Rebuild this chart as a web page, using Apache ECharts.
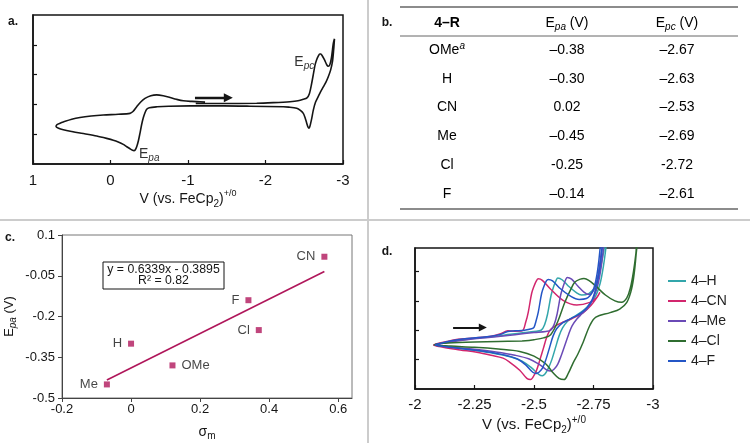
<!DOCTYPE html>
<html><head><meta charset="utf-8">
<script src="https://cdn.jsdelivr.net/npm/echarts@6/dist/echarts.min.js"></script>
<style>html,body{margin:0;padding:0;background:#fff}#c{width:750px;height:443px}</style>
</head><body><div id="c"></div>
<script>
// ---------- Panel a: CV of 4-H (potential V, current in tick units) ----------
const cvA = [
[-1.10,2.03],[-1.40,2.03],[-1.886,2.04],[-2.1,2.06],[-2.316,2.09],[-2.42,2.12],[-2.488,2.17],[-2.535,2.22],[-2.565,2.35],[-2.596,2.71],[-2.62,3.05],[-2.639,3.32],[-2.66,3.5],[-2.681,3.62],[-2.70,3.69],[-2.715,3.69],[-2.73,3.64],[-2.76,3.5],[-2.79,3.33],[-2.81,3.28],[-2.83,3.33],[-2.85,3.55],[-2.865,3.85],[-2.875,4.05],[-2.89,4.2],
[-2.88,3.85],[-2.865,3.45],[-2.84,3.15],[-2.81,2.93],[-2.78,2.75],[-2.746,2.59],[-2.71,2.42],[-2.68,2.26],[-2.645,2.07],[-2.617,1.81],[-2.598,1.55],[-2.583,1.37],[-2.57,1.24],[-2.561,1.2],[-2.548,1.24],[-2.532,1.37],[-2.51,1.56],[-2.488,1.70],[-2.45,1.8],[-2.403,1.87],[-2.3,1.91],[-2.23,1.92],[-1.8,1.94],[-1.455,1.95],[-1.026,1.95],[-0.75,1.94],[-0.6,1.92],[-0.5,1.89],[-0.467,1.84],[-0.445,1.72],[-0.423,1.55],[-0.40,1.3],[-0.38,1.03],[-0.36,0.78],[-0.338,0.58],[-0.318,0.47],[-0.303,0.45],[-0.285,0.46],[-0.252,0.51],[-0.21,0.58],[-0.165,0.66],[-0.1,0.74],[-0.036,0.80],[0.05,0.86],[0.178,0.94],[0.3,1.0],[0.394,1.04],[0.5,1.09],[0.609,1.15],[0.67,1.2],[0.703,1.26],[0.69,1.32],[0.65,1.37],[0.609,1.41],[0.5,1.5],[0.394,1.56],[0.25,1.61],[0.093,1.645],[-0.1,1.67],[-0.252,1.70],[-0.29,1.76],[-0.338,1.92],[-0.39,2.08],[-0.445,2.2],[-0.52,2.29],[-0.596,2.32],[-0.68,2.29],[-0.768,2.23],[-0.85,2.17],[-0.94,2.12],[-1.05,2.10],[-1.155,2.09],[-1.22,2.08]
];
const arrowA = [[-1.09,2.22],[-1.52,2.22]];
const labelEpc = [-2.50,3.42];
const labelEpa = [-0.50,0.34];
const xTicksA = [1,0,-1,-2,-3];

// ---------- Panel b: table ----------
const substituents = ['OMe','H','CN','Me','Cl','F'];
const epaText = ['\u20130.38','\u20130.30','0.02','\u20130.45','-0.25','\u20130.14'];
const epcText = ['\u20132.67','\u20132.63','\u20132.53','\u20132.69','-2.72','\u20132.61'];

// ---------- Panel c: Hammett plot ----------
const sigmaM = [0.12, 0.00, 0.56, -0.07, 0.37, 0.34];
const epaVals = [-0.38, -0.30, 0.02, -0.45, -0.25, -0.14];
const trendX = [-0.07, 0.56];
const trendY = [-0.4339, -0.0345];
const xTicksC = [-0.2, 0, 0.2, 0.4, 0.6];
const yTicksC = [-0.5, -0.35, -0.2, -0.05, 0.1];
const eqLines = ['y = 0.6339x - 0.3895', 'R\u00b2 = 0.82'];

// ---------- Panel d: CVs of 4-R ----------
const seriesNames = ['4\u2013H','4\u2013CN','4\u2013Me','4\u2013Cl','4\u2013F'];
const cvH = [
[-2.24,1.72],[-2.32,1.78],[-2.40,1.86],[-2.46,1.92],[-2.50,1.96],[-2.53,2.0],[-2.545,2.2],[-2.557,2.55],[-2.572,3.2],[-2.583,3.5],[-2.593,3.7],[-2.60,3.78],[-2.618,3.72],[-2.645,3.5],[-2.675,3.3],[-2.70,3.2],[-2.73,3.25],[-2.755,3.45],[-2.772,3.85],[-2.785,4.35],[-2.795,4.8],[-2.80,5.3],
[-2.808,5.3],[-2.802,4.8],[-2.792,4.2],[-2.778,3.6],[-2.755,3.1],[-2.725,2.8],[-2.695,2.6],[-2.665,2.45],[-2.64,2.3],[-2.62,2.08],[-2.605,1.8],[-2.59,1.4],[-2.575,1.0],[-2.56,0.7],[-2.547,0.52],[-2.535,0.45],[-2.52,0.5],[-2.49,0.72],[-2.45,0.95],[-2.40,1.1],[-2.32,1.23],[-2.22,1.35],[-2.13,1.44],[-2.085,1.5],[-2.12,1.57],[-2.18,1.66],[-2.24,1.72]
];
const cvCN = [
[-2.18,1.69],[-2.25,1.74],[-2.32,1.80],[-2.36,1.88],[-2.39,1.98],[-2.42,1.97],[-2.45,1.98],[-2.466,2.3],[-2.476,2.62],[-2.49,3.25],[-2.50,3.5],[-2.51,3.68],[-2.518,3.75],[-2.535,3.7],[-2.567,3.42],[-2.622,3.02],[-2.68,2.86],[-2.735,2.95],[-2.762,3.1],[-2.777,3.29],
[-2.765,3.12],[-2.74,2.85],[-2.707,2.6],[-2.66,2.4],[-2.623,2.28],[-2.59,2.15],[-2.567,2.0],[-2.553,1.75],[-2.54,1.4],[-2.525,1.0],[-2.51,0.62],[-2.497,0.42],[-2.485,0.32],[-2.47,0.36],[-2.44,0.64],[-2.40,0.9],[-2.37,1.05],[-2.32,1.15],[-2.26,1.25],[-2.19,1.33],[-2.118,1.42],[-2.078,1.5],[-2.10,1.56],[-2.14,1.63],[-2.18,1.69]
];
const cvMe = [
[-2.26,1.72],[-2.34,1.78],[-2.42,1.85],[-2.50,1.92],[-2.55,1.96],[-2.57,2.0],[-2.585,2.2],[-2.597,2.55],[-2.612,3.2],[-2.623,3.5],[-2.633,3.72],[-2.64,3.8],[-2.658,3.74],[-2.685,3.5],[-2.71,3.3],[-2.73,3.22],[-2.75,3.35],[-2.765,3.7],[-2.775,4.2],[-2.785,4.8],[-2.79,5.3],
[-2.797,5.3],[-2.792,4.8],[-2.783,4.2],[-2.77,3.6],[-2.75,3.1],[-2.725,2.75],[-2.70,2.55],[-2.68,2.38],[-2.66,2.15],[-2.645,1.85],[-2.63,1.5],[-2.615,1.15],[-2.60,0.85],[-2.585,0.68],[-2.57,0.61],[-2.555,0.64],[-2.525,0.82],[-2.48,1.02],[-2.42,1.15],[-2.34,1.26],[-2.24,1.36],[-2.14,1.44],[-2.09,1.5],[-2.13,1.57],[-2.20,1.66],[-2.26,1.72]
];
const cvCl = [
[-2.45,1.63],[-2.50,1.68],[-2.54,1.74],[-2.57,1.85],[-2.60,2.3],[-2.63,2.96],[-2.655,3.4],[-2.672,3.64],[-2.695,3.74],[-2.71,3.76],[-2.73,3.7],[-2.76,3.5],[-2.80,3.2],[-2.84,3.0],[-2.868,2.95],[-2.89,3.1],[-2.905,3.45],[-2.918,4.0],[-2.928,4.6],[-2.935,5.2],
[-2.94,5.2],[-2.932,4.8],[-2.922,4.0],[-2.91,3.4],[-2.89,2.95],[-2.86,2.72],[-2.82,2.6],[-2.76,2.45],[-2.735,2.17],[-2.707,1.6],[-2.685,1.2],[-2.665,0.9],[-2.645,0.55],[-2.626,0.32],[-2.605,0.36],[-2.58,0.55],[-2.55,0.85],[-2.50,1.12],[-2.44,1.28],[-2.35,1.36],[-2.25,1.42],[-2.15,1.46],[-2.08,1.5],[-2.12,1.56],[-2.25,1.6],[-2.35,1.62],[-2.45,1.63]
];
const cvF = [
[-2.22,1.72],[-2.30,1.78],[-2.36,1.86],[-2.39,1.96],[-2.42,1.98],[-2.46,2.0],[-2.49,2.05],[-2.50,2.1],[-2.508,2.3],[-2.518,2.62],[-2.532,3.25],[-2.542,3.5],[-2.552,3.68],[-2.56,3.73],[-2.578,3.68],[-2.61,3.42],[-2.65,3.18],[-2.69,3.05],[-2.72,3.08],[-2.745,3.3],[-2.76,3.7],[-2.77,4.2],[-2.778,4.8],[-2.785,5.3],
[-2.792,5.3],[-2.786,4.8],[-2.778,4.2],[-2.765,3.6],[-2.745,3.05],[-2.72,2.75],[-2.69,2.55],[-2.65,2.38],[-2.62,2.25],[-2.595,2.05],[-2.58,1.8],[-2.565,1.4],[-2.55,1.0],[-2.535,0.7],[-2.522,0.58],[-2.51,0.53],[-2.495,0.57],[-2.465,0.82],[-2.43,1.02],[-2.38,1.15],[-2.30,1.27],[-2.20,1.37],[-2.12,1.45],[-2.085,1.5],[-2.11,1.56],[-2.16,1.65],[-2.22,1.72]
];
const arrowD = [[-2.16,2.09],[-2.285,2.09]];
const xTicksD = [-2,-2.25,-2.5,-2.75,-3];
const yTicksCV = [1,2,3,4];

// ---------- build ----------
const FONT = 'Liberation Sans, Arial, Helvetica, sans-serif';
const colorsD = ['#33a6ab','#d2266d','#6a4ab6','#2f6d30','#2456c6'];
const cvD = [cvH, cvCN, cvMe, cvCl, cvF];
const magenta = '#b0175b';
const ink = '#151515';

const richV = {
  n:{fontSize:14,color:ink,fontFamily:FONT,lineHeight:20},
  sub:{fontSize:10,color:ink,fontFamily:FONT,verticalAlign:'bottom',lineHeight:20},
  sup:{fontSize:9,color:ink,fontFamily:FONT,verticalAlign:'top',lineHeight:20}
};
const vName = '{n|V (vs. FeCp}{sub|2}{n|)}{sup|+/0}';

const chart = echarts.init(document.getElementById('c'), null, {renderer:'canvas'});

const labelSide = {OMe:'right'};
const scatterData = substituents.map((s,i)=>({
  name:s, value:[sigmaM[i], epaVals[i]],
  label:{position: labelSide[s] || 'left'}
}));

const graphics = [];
graphics.push({type:'line', shape:{x1:368,y1:0,x2:368,y2:443}, style:{stroke:'#cccccc', lineWidth:2}});
graphics.push({type:'line', shape:{x1:0,y1:220,x2:750,y2:220}, style:{stroke:'#cccccc', lineWidth:2}});
[['a.',13,22],['b.',387,23],['c.',10,238],['d.',387,252]].forEach(p=>{
  graphics.push({type:'text', x:p[1], y:p[2], style:{text:p[0], font:'bold 12px '+FONT, fill:ink, textAlign:'center', textVerticalAlign:'middle'}});
});
const tblL = 400, tblR = 738;
graphics.push({type:'line', shape:{x1:tblL,y1:7,x2:tblR,y2:7}, style:{stroke:'#666', lineWidth:1.5}});
graphics.push({type:'line', shape:{x1:tblL,y1:36,x2:tblR,y2:36}, style:{stroke:'#666', lineWidth:1}});
graphics.push({type:'line', shape:{x1:tblL,y1:209,x2:tblR,y2:209}, style:{stroke:'#666', lineWidth:1.5}});
const colX = [447, 567, 677];
const richT = {
  n:{fontSize:14,color:'#222',fontFamily:FONT},
  b:{fontSize:14,color:'#222',fontFamily:FONT,fontWeight:'bold'},
  sub:{fontSize:10,color:'#222',fontFamily:FONT,fontStyle:'italic',verticalAlign:'bottom',lineHeight:18},
  sup:{fontSize:10,color:'#222',fontFamily:FONT,fontStyle:'italic',verticalAlign:'top',lineHeight:18}
};
const headers = ['{b|4\u2013R}','{n|E}{sub|pa}{n| (V)}','{n|E}{sub|pc}{n| (V)}'];
headers.forEach((h,j)=>{
  graphics.push({type:'text', x:colX[j], y:23, style:{text:h, rich:richT, textAlign:'center', textVerticalAlign:'middle'}});
});
const rowY0 = 50, rowStep = 28.8;
substituents.forEach((s,i)=>{
  const y = rowY0 + i*rowStep;
  const name = s==='OMe' ? '{n|OMe}{sup|a}' : '{n|'+s+'}';
  graphics.push({type:'text', x:colX[0], y:y, style:{text:name, rich:richT, textAlign:'center', textVerticalAlign:'middle'}});
  graphics.push({type:'text', x:colX[1], y:y, style:{text:'{n|'+epaText[i]+'}', rich:richT, textAlign:'center', textVerticalAlign:'middle'}});
  graphics.push({type:'text', x:colX[2], y:y, style:{text:'{n|'+epcText[i]+'}', rich:richT, textAlign:'center', textVerticalAlign:'middle'}});
});
graphics.push({type:'rect', shape:{x:103,y:262,width:121,height:27}, style:{fill:'#fff', stroke:ink, lineWidth:1}, z:10});
eqLines.forEach((t,i)=>{
  graphics.push({type:'text', x:163.5, y:269.5+i*11.5, z:11, style:{text:t, font:'12.3px '+FONT, fill:ink, textAlign:'center', textVerticalAlign:'middle'}});
});

const arrowMark = (pts, w, s)=>({silent:true, symbol:['none','triangle'], symbolSize:s,
  lineStyle:{color:ink, width:w, type:'solid'}, itemStyle:{color:ink}, label:{show:false},
  emphasis:{disabled:true},
  data:[[{coord:pts[0]},{coord:pts[1]}]]});

const cvSeriesD = cvD.map((d,i)=>({
  name: seriesNames[i], type:'line', xAxisIndex:2, yAxisIndex:2,
  data:d, symbol:'none', smooth:0.35, clip:true,
  lineStyle:{color:colorsD[i], width:1.5}, itemStyle:{color:colorsD[i]},
  z: 3
}));
cvSeriesD[0].markLine = arrowMark(arrowD, 2, 8);

const option = {
  animation:false,
  backgroundColor:'#fff',
  textStyle:{fontFamily:FONT},
  grid:[
    {left:33, top:15, width:310, height:149, show:true, borderColor:ink, borderWidth:1.5},
    {left:62, top:235, width:290, height:163, show:true, borderColor:'#777', borderWidth:1},
    {left:415, top:248, width:238, height:141, show:true, borderColor:ink, borderWidth:1.5}
  ],
  xAxis:[
    {gridIndex:0, type:'value', min:-3, max:1, interval:1, inverse:true,
     axisLine:{onZero:false, lineStyle:{color:ink,width:1.5}},
     axisTick:{inside:true,length:4,lineStyle:{color:ink,width:1.2}, customValues:xTicksA},
     axisLabel:{fontSize:15,color:ink,margin:9, customValues:xTicksA},
     splitLine:{show:false},
     name:vName, nameLocation:'middle', nameGap:15, nameTextStyle:{rich:richV}},
    {gridIndex:1, type:'value', min:-0.2, max:0.64,
     axisLine:{onZero:false, lineStyle:{color:'#444',width:1}},
     axisTick:{length:4,lineStyle:{color:'#444'}, customValues:xTicksC},
     axisLabel:{fontSize:13,color:ink,margin:5, customValues:xTicksC},
     splitLine:{show:false},
     name:'{n|\u03c3}{sub|m}', nameLocation:'middle', nameGap:25,
     nameTextStyle:{rich:{n:{fontSize:14,color:ink,lineHeight:18},sub:{fontSize:10,color:ink,verticalAlign:'bottom',lineHeight:18}}}},
    {gridIndex:2, type:'value', min:-3, max:-2, interval:0.25, inverse:true,
     axisLine:{onZero:false, lineStyle:{color:ink,width:1.5}},
     axisTick:{inside:true,length:4,lineStyle:{color:ink,width:1.2}, customValues:xTicksD},
     axisLabel:{fontSize:15,color:ink,margin:8, customValues:xTicksD},
     splitLine:{show:false},
     name:vName, nameLocation:'middle', nameGap:26,
     nameTextStyle:{rich:{n:{fontSize:15,color:ink,lineHeight:20},sub:{fontSize:10,color:ink,verticalAlign:'bottom',lineHeight:20},sup:{fontSize:10,color:ink,verticalAlign:'top',lineHeight:20}}}}
  ],
  yAxis:[
    {gridIndex:0, type:'value', min:0, max:5,
     axisLine:{show:true,onZero:false,lineStyle:{color:ink,width:1.5}},
     axisTick:{show:true,inside:true,length:4,lineStyle:{color:ink,width:1.2}, customValues:yTicksCV},
     axisLabel:{show:false}, splitLine:{show:false}},
    {gridIndex:1, type:'value', min:-0.5, max:0.1,
     axisLine:{show:true,onZero:false,lineStyle:{color:'#444',width:1}},
     axisTick:{show:true,length:4,lineStyle:{color:'#444'}, customValues:yTicksC},
     axisLabel:{show:true,fontSize:13,color:ink,margin:7, customValues:yTicksC},
     splitLine:{show:false},
     name:'{n|E}{sub|pa}{n| (V)}', nameLocation:'middle', nameGap:44, nameRotate:90,
     nameTextStyle:{rich:{n:{fontSize:13,color:ink,lineHeight:18},sub:{fontSize:10,color:ink,fontStyle:'italic',verticalAlign:'bottom',lineHeight:18}}}},
    {gridIndex:2, type:'value', min:0, max:4.8,
     axisLine:{show:true,onZero:false,lineStyle:{color:ink,width:1.5}},
     axisTick:{show:true,inside:true,length:4,lineStyle:{color:ink,width:1.2}, customValues:yTicksCV},
     axisLabel:{show:false}, splitLine:{show:false}}
  ],
  legend:{
    data:seriesNames, orient:'vertical', left:663, top:268,
    icon:'rect', itemWidth:18, itemHeight:2, itemGap:4, selectedMode:false,
    textStyle:{fontSize:14,color:'#222',fontFamily:FONT,lineHeight:16}
  },
  graphic:graphics,
  series:[
    {name:'cvA', type:'line', xAxisIndex:0, yAxisIndex:0, data:cvA, symbol:'none', smooth:0.3,
     lineStyle:{color:ink,width:1.6}, z:3,
     markLine:arrowMark(arrowA, 2.4, 9),
     markPoint:{symbol:'rect', symbolSize:1, itemStyle:{color:'rgba(0,0,0,0)'}, silent:true,
       label:{show:true, position:'inside', formatter:(p)=>'{n|E}{sub|'+p.name+'}',
         rich:{n:{fontSize:14,color:'#333',fontFamily:FONT,lineHeight:18},sub:{fontSize:10,color:'#333',fontStyle:'italic',fontFamily:FONT,verticalAlign:'bottom',lineHeight:18}}},
       data:[{name:'pc', coord:labelEpc},{name:'pa', coord:labelEpa}]}},
    {name:'trend', type:'line', xAxisIndex:1, yAxisIndex:1,
     data:trendX.map((x,i)=>[x,trendY[i]]), symbol:'none', lineStyle:{color:magenta,width:1.6}, z:2},
    {name:'points', type:'scatter', xAxisIndex:1, yAxisIndex:1, data:scatterData,
     symbol:'rect', symbolSize:6, itemStyle:{color:magenta}, z:3,
     label:{show:true, formatter:'{b}', fontSize:13, color:ink, distance:6, fontFamily:FONT}},
    ...cvSeriesD
  ]
};
chart.setOption(option);
</script></body></html>
